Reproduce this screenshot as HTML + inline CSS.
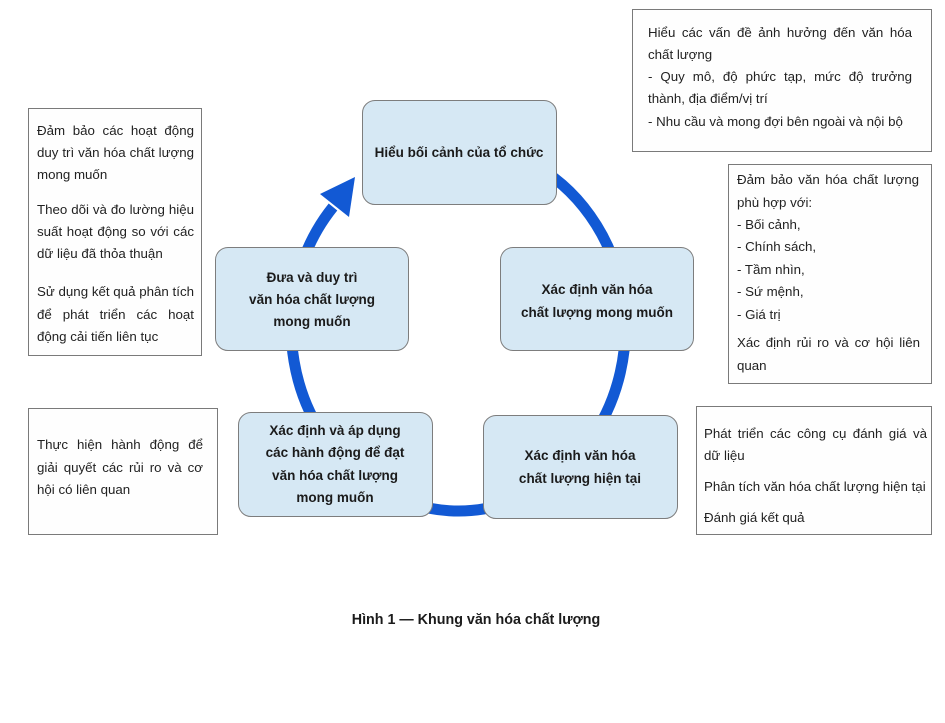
<!DOCTYPE html>
<html>
<head>
<meta charset="utf-8">
<style>
  html,body{margin:0;padding:0;background:#fff;}
  body{width:945px;height:723px;position:relative;overflow:hidden;
       font-family:"Liberation Sans","Noto Sans CJK SC",sans-serif;color:#222;}
  .svg{position:absolute;left:0;top:0;}
  .node{position:absolute;box-sizing:border-box;background:#d6e8f4;border:1.5px solid #7d7d7d;
        border-radius:13px;}
  .nt{position:absolute;font-weight:bold;font-size:13.5px;line-height:20px;text-align:center;
      white-space:nowrap;color:#1b1b1b;transform:translateX(-50%);}
  .ann{position:absolute;box-sizing:border-box;background:#fefefe;border:1.5px solid #7a7a7a;}
  .l{position:absolute;font-size:13.3px;line-height:20px;white-space:nowrap;color:#222;}
  .j{position:absolute;font-size:13.3px;line-height:20px;text-align:justify;text-align-last:justify;color:#222;}
  .cap{position:absolute;left:0;width:952px;top:610px;text-align:center;font-weight:bold;font-size:14.3px;line-height:20px;color:#1b1b1b;}
</style>
</head>
<body>

<svg class="svg" width="945" height="723" viewBox="0 0 945 723">
  <path d="M 459 145 A 167 183 0 1 1 333 207" fill="none" stroke="#1259d4" stroke-width="11"/>
  <polygon points="355,177 320,194 349,217" fill="#1259d4"/>
</svg>

<!-- Nodes -->
<div class="node" style="left:362px;top:100px;width:195px;height:105px;"></div>
<div class="nt" style="left:459px;top:143px;">Hiểu bối cảnh của tổ chức</div>

<div class="node" style="left:500px;top:247px;width:194px;height:104px;"></div>
<div class="nt" style="left:597px;top:278px;line-height:23px;">Xác định văn hóa<br>chất lượng mong muốn</div>

<div class="node" style="left:215px;top:247px;width:194px;height:104px;"></div>
<div class="nt" style="left:312px;top:267px;line-height:22px;">Đưa và duy trì<br>văn hóa chất lượng<br>mong muốn</div>

<div class="node" style="left:238px;top:412px;width:195px;height:105px;"></div>
<div class="nt" style="left:335px;top:420px;line-height:22.3px;">Xác định và áp dụng<br>các hành động để đạt<br>văn hóa chất lượng<br>mong muốn</div>

<div class="node" style="left:483px;top:415px;width:195px;height:104px;"></div>
<div class="nt" style="left:580px;top:445px;line-height:22.5px;">Xác định văn hóa<br>chất lượng hiện tại</div>

<!-- Top-right annotation -->
<div class="ann" style="left:632px;top:9px;width:300px;height:143px;"></div>
<div class="j" style="left:648px;top:23px;width:264px;">Hiểu các vấn đề ảnh hưởng đến văn hóa</div>
<div class="l" style="left:648px;top:45px;">chất lượng</div>
<div class="j" style="left:648px;top:67px;width:264px;">- Quy mô, độ phức tạp, mức độ trưởng</div>
<div class="l" style="left:648px;top:89px;">thành, địa điểm/vị trí</div>
<div class="l" style="left:648px;top:112px;">- Nhu cầu và mong đợi bên ngoài và nội bộ</div>

<!-- Right-mid annotation -->
<div class="ann" style="left:728px;top:164px;width:204px;height:220px;"></div>
<div class="j" style="left:737px;top:170px;width:182px;">Đảm bảo văn hóa chất lượng</div>
<div class="l" style="left:737px;top:193px;">phù hợp với:</div>
<div class="l" style="left:737px;top:215px;">- Bối cảnh,</div>
<div class="l" style="left:737px;top:237px;">- Chính sách,</div>
<div class="l" style="left:737px;top:260px;">- Tầm nhìn,</div>
<div class="l" style="left:737px;top:282px;">- Sứ mệnh,</div>
<div class="l" style="left:737px;top:305px;">- Giá trị</div>
<div class="j" style="left:737px;top:333px;width:183px;">Xác định rủi ro và cơ hội liên</div>
<div class="l" style="left:737px;top:356px;">quan</div>

<!-- Bottom-right annotation -->
<div class="ann" style="left:696px;top:406px;width:236px;height:129px;"></div>
<div class="j" style="left:704px;top:424px;width:223px;">Phát triển các công cụ đánh giá và</div>
<div class="l" style="left:704px;top:446px;">dữ liệu</div>
<div class="l" style="left:704px;top:477px;">Phân tích văn hóa chất lượng hiện tại</div>
<div class="l" style="left:704px;top:508px;">Đánh giá kết quả</div>

<!-- Left-top annotation -->
<div class="ann" style="left:28px;top:108px;width:174px;height:248px;"></div>
<div class="j" style="left:37px;top:121px;width:157px;">Đảm bảo các hoạt động</div>
<div class="j" style="left:37px;top:143px;width:157px;">duy trì văn hóa chất lượng</div>
<div class="l" style="left:37px;top:165px;">mong muốn</div>
<div class="j" style="left:37px;top:200px;width:157px;">Theo dõi và đo lường hiệu</div>
<div class="j" style="left:37px;top:222px;width:157px;">suất hoạt động so với các</div>
<div class="l" style="left:37px;top:244px;">dữ liệu đã thỏa thuận</div>
<div class="j" style="left:37px;top:282px;width:157px;">Sử dụng kết quả phân tích</div>
<div class="j" style="left:37px;top:305px;width:157px;">để phát triển các hoạt</div>
<div class="l" style="left:37px;top:327px;">động cải tiến liên tục</div>

<!-- Left-bottom annotation -->
<div class="ann" style="left:28px;top:408px;width:190px;height:127px;"></div>
<div class="j" style="left:37px;top:435px;width:166px;">Thực hiện hành động để</div>
<div class="j" style="left:37px;top:458px;width:166px;">giải quyết các rủi ro và cơ</div>
<div class="l" style="left:37px;top:480px;">hội có liên quan</div>

<div class="cap">Hình 1 — Khung văn hóa chất lượng</div>

</body>
</html>
